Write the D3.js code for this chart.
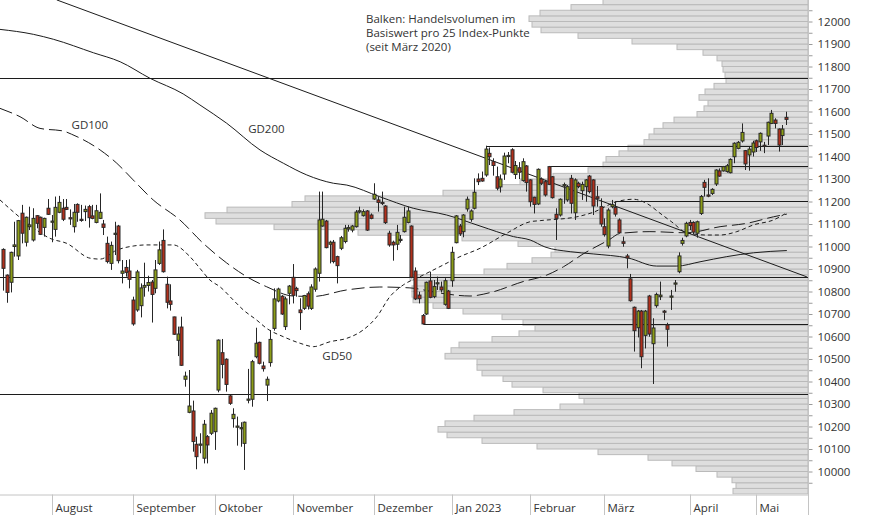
<!DOCTYPE html>
<html lang="de">
<head>
<meta charset="utf-8">
<title>SMI Tageskerzen</title>
<script src="https://d3js.org/d3.v7.min.js"></script>
<style>
  body { margin: 0; background: #fff; }
  svg { display: block; font-family: "Open Sans", sans-serif; font-size: 11.5px; }
  .lbl { fill: #333; }
</style>
</head>
<body>
<script>
// daily candles, index 0 = 13.07.2022 (trading days)
var opens = [10987,10873,10841,11000,10958,11148,11019,11088,11029,11137,11130,11085,11170,11109,11076,11152,11170,11174,11128,11088,
  11187,11121,11155,11177,11136,11107,11125,11100,11014,10925,11054,11091,10881,10907,10891,10762,10718,10737,10819,10827,
  10842,10814,10925,11027,10832,10758,10687,10583,10642,10410,10263,10269,10121,10118,10059,10155,10170,10177,10362,10528,
  10499,10336,10235,10198,10192,10125,10318,10321,10510,10574,10469,10384,10484,10636,10758,10779,10644,10792,10863,10814,
  10718,10725,10790,10725,10810,10881,11091,11113,11010,11019,10955,10992,11022,11078,11073,11088,11155,11137,11158,11140,
  11211,11207,11196,11180,11059,11019,11010,11029,11066,11107,11091,10891,10784,10693,10700,10847,10777,10836,10820,10743,
  10802,10848,11017,11091,11066,11167,11121,11170,11300,11303,11318,11414,11377,11310,11265,11322,11400,11430,11320,11350,
  11293,11358,11296,11219,11189,11300,11288,11355,11310,11143,11140,11270,11207,11303,11150,11281,11248,11266,11313,11296,
  11221,11177,11088,11002,11177,11174,11118,11021,10958,10856,10730,10639,10713,10605,10780,10568,10737,10777,10713,10651,
  10777,10834,10888,11014,11047,11107,11107,11059,11147,11285,11229,11236,11278,11336,11336,11333,11328,11399,11436,11469,
  11426,11407,11420,11470,11465,11450,11491,11547,11562,11522,11493,11574];
var highs = [10992,10876,10977,11110,11118,11185,11133,11177,11170,11140,11133,11128,11211,11140,11222,11225,11211,11211,11165,11189,
  11192,11185,11182,11185,11185,11185,11236,11118,11044,11022,11110,11096,10940,10940,10943,10777,10896,10836,10928,10870,
  10851,10940,11022,11076,10866,10832,10688,10644,10688,10444,10451,10315,10155,10170,10229,10162,10273,10284,10587,10589,
  10503,10340,10281,10244,10219,10222,10456,10496,10639,10577,10488,10422,10629,10814,10817,10784,10777,10829,10922,10821,
  10770,10785,10800,10832,10907,11244,11244,11118,11026,11029,10959,11047,11096,11096,11096,11162,11177,11165,11162,11147,
  11281,11222,11244,11184,11070,11026,11096,11051,11177,11177,11094,10907,10799,10700,10844,10888,10851,10866,10844,10859,
  10807,10999,11140,11100,11144,11222,11165,11303,11325,11333,11448,11440,11392,11355,11320,11417,11420,11437,11380,11375,
  11392,11362,11299,11221,11347,11307,11296,11358,11313,11170,11214,11284,11273,11318,11303,11288,11288,11300,11318,11299,
  11269,11214,11125,11170,11207,11201,11125,11044,10967,10878,10733,10718,10718,10718,10785,10681,10795,10844,10718,10661,
  10807,10851,10974,11039,11110,11118,11112,11115,11229,11296,11303,11259,11343,11347,11358,11367,11392,11463,11469,11547,
  11429,11444,11470,11475,11507,11465,11555,11607,11570,11525,11540,11599];
var lows = [10804,10750,10796,10955,10940,11014,11000,11073,11022,11081,11051,11044,11140,11019,11044,11148,11113,11162,11096,11062,
  11110,11110,11113,11084,11121,11103,11122,11051,10925,10896,10962,10925,10836,10866,10814,10648,10710,10685,10777,10800,
  10662,10792,10918,10884,10725,10715,10607,10513,10469,10377,10259,10088,10010,10081,10036,10036,10162,10096,10352,10414,
  10355,10296,10195,10115,10110,10007,10303,10288,10503,10476,10444,10313,10466,10626,10752,10696,10629,10743,10747,10777,
  10629,10718,10720,10718,10799,10844,11088,10992,10925,10925,10836,10984,11014,11066,11063,11084,11147,11133,11069,11121,
  11207,11155,11184,11100,10999,10937,10984,11017,11062,11103,10859,10762,10747,10654,10696,10770,10770,10807,10796,10737,
  10722,10821,11014,11047,11041,11155,11110,11165,11273,11288,11310,11362,11315,11250,11240,11296,11370,11325,11300,11300,
  11288,11244,11177,11147,11184,11273,11222,11273,11213,11029,11133,11190,11199,11147,11118,11259,11207,11199,11236,11140,
  11177,11088,11044,10992,11170,11133,11059,10999,10903,10755,10533,10596,10459,10547,10599,10389,10728,10762,10673,10555,
  10718,10799,10881,11004,11041,11073,11053,11039,11140,11222,11219,11229,11269,11310,11333,11328,11325,11370,11432,11462,
  11340,11337,11400,11420,11425,11415,11451,11544,11525,11422,11451,11540];
var closes = [10903,10796,10974,11007,11115,11059,11130,11096,11125,11103,11054,11125,11143,11113,11174,11196,11121,11165,11124,11152,
  11152,11118,11165,11128,11125,11159,11152,11085,10933,11005,11059,10937,10891,10885,10854,10656,10887,10816,10827,10840,
  10787,10896,10985,10888,10752,10743,10610,10611,10472,10424,10291,10133,10066,10122,10210,10118,10259,10281,10584,10476,
  10387,10303,10254,10202,10195,10219,10322,10488,10570,10481,10457,10410,10587,10767,10811,10700,10767,10824,10783,10804,
  10706,10782,10735,10820,10900,11118,11121,10995,11019,10933,10915,11039,11081,11084,11091,11153,11159,11155,11073,11125,
  11232,11196,11192,11106,11007,11007,11063,11032,11130,11158,10863,10767,10768,10656,10841,10774,10822,10839,10807,10848,
  10725,10974,11136,11056,11140,11210,11158,11241,11288,11291,11433,11399,11360,11259,11300,11402,11405,11330,11360,11330,
  11377,11284,11199,11187,11343,11281,11229,11276,11217,11125,11210,11275,11266,11192,11296,11266,11276,11296,11244,11180,
  11214,11100,11053,11162,11186,11144,11061,11014,10949,10759,10626,10713,10510,10713,10611,10638,10787,10784,10710,10632,
  10780,10838,10958,11027,11103,11093,11064,11110,11222,11263,11225,11254,11340,11313,11355,11359,11387,11459,11463,11507,
  11367,11433,11460,11440,11503,11445,11552,11592,11547,11451,11522,11565];

// moving averages as [trading day index, value]
var gd50 = [[-0.9,11207],[7.7,11088],[12.6,11036],[17.1,11014],[23.4,10948],[26.1,10944],[30.6,10984],[35,11002],[38.7,11007],
  [45.8,11007],[50.3,10955],[53,10903],[55.7,10851],[58.4,10821],[62,10762],[64.7,10718],[68.3,10673],[71,10636],[75.5,10599],
  [80,10570],[83.6,10555],[88.1,10577],[92.6,10592],[97,10629],[100.7,10688],[104.2,10777],[107.8,10829],[112.3,10866],
  [116.8,10903],[123.1,10955],[128.5,10992],[135.7,11059],[142,11110],[144.7,11115],[154.6,11132],[159,11152],[165.3,11199],
  [169.8,11210],[173.4,11192],[177,11148],[180.2,11109],[184.2,11061],[189.6,11051],[193.2,11051],[197.7,11066],[202.2,11096],
  [207.6,11118],[211.2,11150]];
var gd100 = [[-0.9,11614],[4.5,11577],[9.9,11525],[16.2,11513],[18.4,11499],[26.1,11429],[30.6,11370],[35,11296],[40.4,11207],
  [47.6,11118],[53.9,11014],[60.2,10927],[65.6,10866],[71,10821],[78.1,10780],[83.5,10778],[92.6,10807],[101.5,10820],
  [109.6,10816],[117.7,10793],[125.8,10780],[131.2,10795],[140.1,10844],[146.5,10873],[151,10910],[156.3,10967],[163.5,11032],
  [166.2,11058],[174.3,11066],[184.2,11061],[193.2,11088],[200.4,11103],[207.6,11132],[211.2,11144]];
var gd200 = [[-0.9,11965],[8.1,11943],[13.5,11921],[24.3,11861],[31.5,11821],[39.5,11748],[48.5,11678],[53,11629],[60.2,11548],
  [69.2,11429],[75.5,11370],[81.8,11318],[89,11281],[92.6,11273],[101.5,11221],[110.5,11170],[119.5,11140],[128.5,11091],
  [137.5,11044],[142,11029],[146,10998],[152.8,10977],[159,10967],[168.4,10949],[176.1,10913],[181.5,10913],[187.8,10932],
  [195,10955],[202.2,10972],[211.2,10982]];

// trading volume per 25 index points, lowest bin 9900-9925
var profileVolume = [75,72,76,91,112,136,160,210,271,326,361,370,363,334,294,248,224,229,265,296,305,326,331,331,363,357,349,316,
  289,273,285,306,345,375,395,396,396,393,398,324,301,276,257,253,290,346,450,534,592,603,581,516,503,365,310,288,255,220,205,
  202,189,180,164,159,154,145,134,111,104,100,109,103,94,82,83,85,86,91,105,131,176,230,267,276,279,268,237,205];
var profileFrom = 9900, profileStep = 25;

// support / resistance levels: value and first day (-1 = whole chart)
var levelValues = [11748, 11448, 11358, 11201, 10863, 10654, 10343];
var levelStart = [-1, 130, 147, 165, -1, 113, -1];
var trendLine = [[14.4, 12096], [216.6, 10865]];

var monthNames = ["August", "September", "Oktober", "November", "Dezember", "Jan 2023", "Februar", "März", "April", "Mai"];
var monthStart = [13, 35, 57, 78, 100, 121, 142, 162, 185, 203];

var maLabels = [["GD100", 18.4, 11540], ["GD200", 66, 11524], ["GD50", 86, 10512]];
var note = ["Balken: Handelsvolumen im", "Basiswert pro 25 Index-Punkte", "(seit März 2020)"];

var width = 874, height = 515, plotW = 808, plotH = 494.5;

var x = d3.scaleLinear().domain([0, 211]).range([3.3, 786.1]);
var y = d3.scaleLinear().domain([10000, 12000]).range([471.5, 21.5]);
var xv = d3.scaleLinear().domain([0, 808]).range([plotW, 0]);

var svg = d3.select("body").append("svg")
    .attr("width", width)
    .attr("height", height);

svg.append("clipPath").attr("id", "plot")
  .append("rect").attr("width", plotW).attr("height", plotH);

var plot = svg.append("g").attr("clip-path", "url(#plot)");

// volume profile
plot.append("g")
  .selectAll("rect")
  .data(profileVolume)
  .enter().append("rect")
    .attr("x", function(d) { return xv(d); })
    .attr("width", function(d) { return plotW - xv(d); })
    .attr("y", function(d, i) { return y(profileFrom + (i + 1) * profileStep); })
    .attr("height", function(d, i) { return y(profileFrom + i * profileStep) - y(profileFrom + (i + 1) * profileStep); })
    .attr("fill", "#dedede")
    .attr("stroke", "#bababa")
    .attr("stroke-width", 1);

// horizontal levels
plot.append("g")
  .selectAll("line")
  .data(levelValues)
  .enter().append("line")
    .attr("x1", function(d, i) { return levelStart[i] < 0 ? 0 : Math.round(x(levelStart[i])) + 0.5; })
    .attr("x2", plotW)
    .attr("y1", function(d) { return Math.round(y(d)) + 0.5; })
    .attr("y2", function(d) { return Math.round(y(d)) + 0.5; })
    .attr("stroke", "#1c1c1c")
    .attr("stroke-width", 1.2);

plot.append("line")
  .attr("x1", x(trendLine[0][0])).attr("y1", y(trendLine[0][1]))
  .attr("x2", x(trendLine[1][0])).attr("y2", y(trendLine[1][1]))
  .attr("stroke", "#1c1c1c")
  .attr("stroke-width", 1);

// moving averages
var maLine = d3.line()
  .x(function(d) { return x(d[0]); })
  .y(function(d) { return y(d[1]); })
  .curve(d3.curveMonotoneX);

[[gd200, null], [gd100, "13,5"], [gd50, "4,3"]].forEach(function(m) {
  plot.append("path")
    .datum(m[0])
    .attr("d", maLine)
    .attr("fill", "none")
    .attr("stroke", "#1c1c1c")
    .attr("stroke-width", 1)
    .attr("stroke-dasharray", m[1]);
});

// candles
var candles = plot.append("g");
opens.forEach(function(o, i) {
  var cx = Math.round(x(i)) + 0.5;
  var c = closes[i];
  candles.append("line")
    .attr("x1", cx).attr("x2", cx)
    .attr("y1", y(highs[i])).attr("y2", y(lows[i]))
    .attr("stroke", "#262626")
    .attr("stroke-width", 1);
  var top = y(Math.max(o, c)), bot = y(Math.min(o, c));
  candles.append("rect")
    .attr("x", cx - 1.5)
    .attr("width", 3)
    .attr("y", top)
    .attr("height", Math.max(bot - top, 1.2))
    .attr("fill", c >= o ? "#8c9d17" : "#b2301c")
    .attr("stroke", "#2a2a2a")
    .attr("stroke-width", 1);
});

// labels inside the plot
svg.append("g")
  .selectAll("text")
  .data(maLabels)
  .enter().append("text")
    .attr("class", "lbl")
    .attr("x", function(d) { return x(d[1]); })
    .attr("y", function(d) { return y(d[2]); })
    .attr("dy", "0.35em")
    .text(function(d) { return d[0]; });

svg.append("text")
  .attr("class", "lbl")
  .attr("x", 366)
  .attr("y", 22.5)
  .selectAll("tspan")
  .data(note)
  .enter().append("tspan")
    .attr("x", 366)
    .attr("dy", function(d, i) { return i ? 14.2 : 0; })
    .text(function(d) { return d; });

// right axis
var yAxis = d3.axisRight(y)
  .tickValues(d3.range(9950, 12100, 50))
  .tickSize(4)
  .tickPadding(5)
  .tickFormat(function(d) { return d % 100 === 0 ? d : ""; });

var gy = svg.append("g")
  .attr("transform", "translate(" + (plotW + 0.5) + ",0)")
  .call(yAxis);
gy.select(".domain").remove();
gy.selectAll(".tick line").attr("stroke", "#9a9a9a");
gy.selectAll(".tick text").attr("fill", "#333").style("font-size", "11.5px").style("font-family", "'Open Sans', sans-serif");

svg.append("line")
  .attr("x1", plotW + 0.5).attr("x2", plotW + 0.5)
  .attr("y1", 0).attr("y2", height)
  .attr("stroke", "#c4c4c4");

// bottom axis
svg.append("line")
  .attr("x1", 0).attr("x2", plotW)
  .attr("y1", plotH + 0.5).attr("y2", plotH + 0.5)
  .attr("stroke", "#c4c4c4");

var months = svg.append("g")
  .selectAll("g")
  .data(monthNames)
  .enter().append("g")
    .attr("transform", function(d, i) { return "translate(" + (Math.round(x(monthStart[i])) + 0.5) + ",0)"; });

months.append("line")
  .attr("y1", plotH).attr("y2", height)
  .attr("stroke", "#c4c4c4");

months.append("text")
  .attr("class", "lbl")
  .attr("x", 3)
  .attr("y", 511.5)
  .text(function(d) { return d; });
</script>
</body>
</html>
